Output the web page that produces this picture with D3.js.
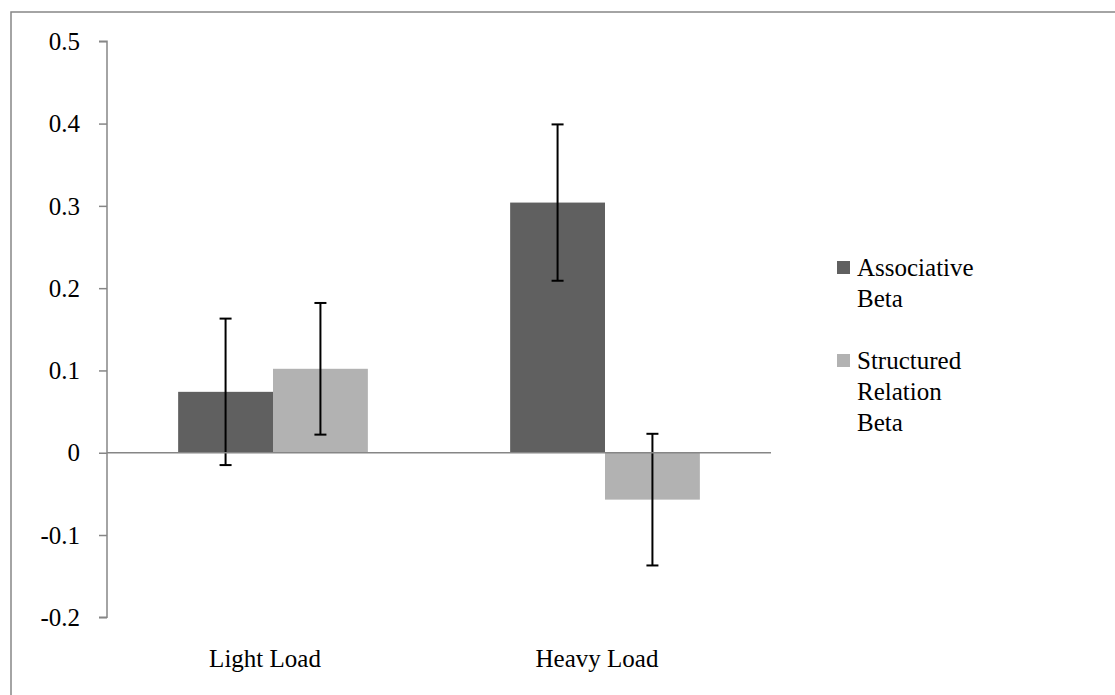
<!DOCTYPE html>
<html>
<head>
<meta charset="utf-8">
<script src="https://cdn.jsdelivr.net/npm/d3@7"></script>
<style>
  html, body { margin: 0; padding: 0; background: #fff; }
  svg { display: block; }
  text { font-family: "Liberation Serif", "Times New Roman", serif; fill: #000; }
</style>
</head>
<body>
<svg id="chart" width="1115" height="695"></svg>
<script>
// Conditions on the x axis
const categories = ["Light Load", "Heavy Load"];
// Series names (legend lines)
const seriesNames = ["Associative Beta", "Structured Relation Beta"];
const seriesLegendLines = [["Associative", "Beta"], ["Structured", "Relation", "Beta"]];
// Mean beta per condition
const associativeBeta = [0.074, 0.304];
const structuredBeta = [0.102, -0.057];
// Error-bar half-widths
const associativeErr = [0.089, 0.095];
const structuredErr = [0.080, 0.080];
// Y tick labels
const yTicks = [-0.2, -0.1, 0, 0.1, 0.2, 0.3, 0.4, 0.5];

const seriesColors = ["#606060", "#b2b2b2"];
const values = [associativeBeta, structuredBeta];
const errors = [associativeErr, structuredErr];

const svg = d3.select("#chart");

// Outer chart border
svg.append("rect")
  .attr("x", 11).attr("y", 12)
  .attr("width", 1130).attr("height", 700)
  .attr("fill", "none")
  .attr("stroke", "#878787")
  .attr("stroke-width", 1.5);

const plot = { left: 107, right: 771, top: 41.3, bottom: 617.3 };

const y = d3.scaleLinear().domain([-0.2, 0.5]).range([plot.bottom, plot.top]);
const x0 = d3.scaleBand().domain(categories).range([plot.left, plot.right]).paddingInner(0).paddingOuter(0);
// Excel-style gap width: bars fill 2 / 3.5 of each category band
const groupWidth = x0.bandwidth() * 2 / 3.5;
const x1 = d3.scaleBand().domain(seriesNames).range([0, groupWidth]);

// Y axis (plain hyphen for negatives)
const yAxis = d3.axisLeft(y)
  .tickValues(yTicks)
  .tickSize(8)
  .tickPadding(19)
  .tickFormat(d => d === 0 ? "0" : d.toFixed(1));

const gy = svg.append("g")
  .attr("transform", `translate(${plot.left},0)`)
  .call(yAxis);
gy.select(".domain").attr("stroke", "#868686").attr("stroke-width", 1.5)
  .attr("d", `M-8,${y(0.5)}H0V${y(-0.2)}H-8`);
gy.selectAll(".tick line").attr("stroke", "#868686").attr("stroke-width", 1.5);
gy.selectAll(".tick text")
  .attr("font-size", 25)
  .attr("font-family", "Liberation Serif, Times New Roman, serif")
  .attr("fill", "#000")
  .attr("dy", "0.33em");

// Bars
const groups = svg.append("g").selectAll("g")
  .data(categories)
  .join("g")
  .attr("transform", c => `translate(${x0(c) + (x0.bandwidth() - groupWidth) / 2},0)`);

seriesNames.forEach((s, si) => {
  groups.append("rect")
    .attr("x", x1(s))
    .attr("width", x1.bandwidth())
    .attr("y", (c, ci) => Math.min(y(values[si][ci]), y(0)))
    .attr("height", (c, ci) => Math.abs(y(values[si][ci]) - y(0)))
    .attr("fill", seriesColors[si]);
});

// Zero baseline across the plot
svg.append("line")
  .attr("x1", plot.left).attr("x2", plot.right)
  .attr("y1", y(0)).attr("y2", y(0))
  .attr("stroke", "#868686").attr("stroke-width", 1.5);

// Error bars
const capHalf = 6;
seriesNames.forEach((s, si) => {
  groups.each(function(c, ci) {
    const g = d3.select(this);
    const cx = x1(s) + x1.bandwidth() / 2;
    const v = values[si][ci], e = errors[si][ci];
    const eb = g.append("g").attr("stroke", "#000").attr("stroke-width", 2);
    eb.append("line").attr("x1", cx).attr("x2", cx).attr("y1", y(v + e)).attr("y2", y(v - e));
    eb.append("line").attr("x1", cx - capHalf).attr("x2", cx + capHalf).attr("y1", y(v + e)).attr("y2", y(v + e));
    eb.append("line").attr("x1", cx - capHalf).attr("x2", cx + capHalf).attr("y1", y(v - e)).attr("y2", y(v - e));
  });
});

// Category labels
svg.append("g").selectAll("text")
  .data(categories)
  .join("text")
  .attr("x", c => x0(c) + x0.bandwidth() / 2 - 8)
  .attr("y", 666.7)
  .attr("text-anchor", "middle")
  .attr("font-size", 25)
  .text(c => c);

// Legend
const legendTop = [261, 354];
const legend = svg.append("g");
seriesNames.forEach((s, si) => {
  legend.append("rect")
    .attr("x", 837).attr("y", legendTop[si])
    .attr("width", 13).attr("height", 13)
    .attr("fill", seriesColors[si]);
  const t = legend.append("text")
    .attr("x", 857).attr("y", legendTop[si] + 15)
    .attr("font-size", 25);
  seriesLegendLines[si].forEach((line, li) => {
    t.append("tspan").attr("x", 857).attr("dy", li === 0 ? 0 : 30.8).text(line);
  });
});
</script>
</body>
</html>
